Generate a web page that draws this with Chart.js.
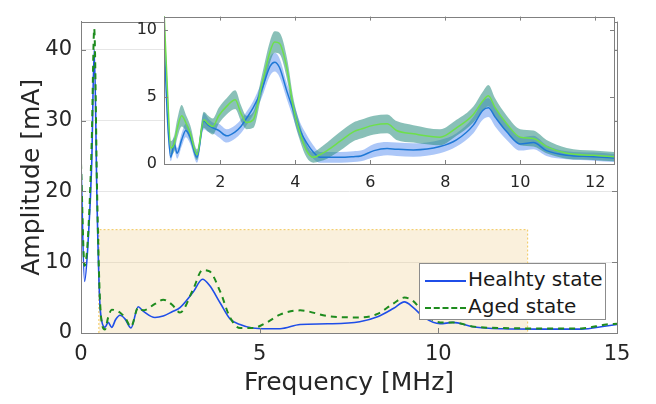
<!DOCTYPE html>
<html>
<head>
<meta charset="utf-8">
<script src="https://cdn.jsdelivr.net/npm/chart.js@4.4.1/dist/chart.umd.min.js"></script>
<style>
	html, body { margin: 0; padding: 0; background: #ffffff; }
	#wrap { position: relative; width: 656px; height: 404px; overflow: hidden; font-family: "DejaVu Sans", sans-serif; }
	#mainChart { position: absolute; left: 0; top: 0; }
	#insetChart { position: absolute; left: 100px; top: 0; }
	#legend { position: absolute; left: 419px; top: 263px; width: 185px; height: 55px; background: #fff; border: 1px solid #8c8c8c; }
	.leg-row { position: absolute; left: 0; height: 27px; width: 100%; }
	.leg-row span { position: absolute; left: 48px; top: 1px; font-size: 20px; color: #1a1a1a; white-space: nowrap; }
	.leg-line { position: absolute; left: 5px; width: 41px; top: 14px; }
</style>
</head>
<body>
<div id="wrap">
	<canvas id="mainChart" width="656" height="404"></canvas>
	<canvas id="insetChart" width="530" height="200"></canvas>
	<div id="legend">
		<div class="leg-row" style="top:2px"><div class="leg-line" style="border-top:2px solid #1f4ee8"></div><span>Healhty state</span></div>
		<div class="leg-row" style="top:29px"><div class="leg-line" style="border-top:2px dashed #1e8c1e"></div><span>Aged state</span></div>
	</div>
</div>
<script>
// 主グラフ（全周波数帯）
const mainFreq = [0, 0.1, 0.2, 0.3, 0.37, 0.45, 0.52, 0.58, 0.67, 0.76, 0.86, 0.97, 1.09, 1.23, 1.4, 1.6, 1.74, 2.07, 2.3, 2.55, 2.77, 3.14, 3.4, 3.6, 3.9, 4.17, 4.45, 4.8, 5.2, 5.57, 6.13, 6.9, 7.8, 8.3, 8.75, 9.05, 9.3, 9.6, 10.05, 10.4, 11, 11.8, 12.85, 14, 14.7, 15];
const healthy = [24, 7.3, 13, 24, 40, 18, 5, 1.7, 0.8, 1.5, 0.8, 1.9, 2.5, 2.0, 0.7, 3.7, 3.1, 2.2, 2.4, 3.0, 3.6, 5.8, 7.6, 6.7, 4.2, 2.0, 1.2, 0.7, 0.6, 0.6, 1.2, 1.3, 1.6, 2.3, 3.5, 4.4, 3.6, 2.2, 1.3, 1.5, 0.85, 0.6, 0.55, 0.55, 1.0, 1.2];
const aged = [24, 9.5, 14, 27, 43, 20, 6, 1.5, 0.5, 2.2, 3.3, 3.2, 2.9, 2.2, 0.9, 3.6, 3.2, 4.1, 4.7, 4.0, 2.9, 6.2, 8.9, 8.7, 5.8, 2.2, 0.7, 0.7, 1.5, 2.6, 3.2, 2.4, 2.2, 2.7, 4.2, 5.0, 4.5, 2.8, 1.5, 1.5, 0.9, 0.7, 0.65, 0.65, 1.2, 1.3];
// 拡大範囲（塗りつぶし矩形）
const zoomBoxX = [0.5, 0.5, 12.5, 12.5];
const zoomBoxY = [0, 14.6, 14.6, 0];
const mainXTicks = [0, 5, 10, 15];
const mainYTicks = [0, 10, 20, 30, 40];

// インセット（平均値＋ばらつき帯）
const insetFreq = [0.5, 0.6, 0.68, 0.77, 0.85, 0.97, 1.08, 1.2, 1.38, 1.56, 1.68, 1.8, 1.96, 2.17, 2.4, 2.55, 2.7, 2.88, 3.1, 3.33, 3.45, 3.58, 3.78, 3.95, 4.13, 4.3, 4.48, 4.66, 4.85, 5.2, 5.55, 5.75, 6.1, 6.45, 6.7, 7.15, 7.86, 8.3, 8.75, 9.0, 9.15, 9.33, 9.64, 10.0, 10.35, 10.7, 11.24, 11.95, 12.5];
const healthyMean = [9.5, 3.0, 0.5, 1.5, 0.8, 1.8, 2.5, 2.0, 0.5, 3.2, 2.9, 2.7, 2.5, 2.1, 2.4, 2.8, 3.4, 4.2, 5.5, 7.3, 7.6, 7.2, 5.4, 4.0, 2.5, 1.6, 0.9, 0.5, 0.5, 0.5, 0.55, 0.6, 1.0, 1.15, 1.1, 1.05, 1.3, 1.8, 2.9, 4.0, 4.2, 3.5, 2.4, 1.5, 1.6, 1.0, 0.65, 0.55, 0.45];
const healthyUpper = [10.0, 3.6, 0.8, 2.0, 1.2, 2.3, 3.0, 2.5, 0.9, 3.8, 3.4, 3.1, 3.0, 2.6, 2.9, 3.3, 3.9, 4.7, 6.1, 8.0, 8.3, 7.9, 6.0, 4.6, 3.1, 2.2, 1.4, 0.9, 0.9, 0.9, 0.95, 1.0, 1.5, 1.65, 1.6, 1.55, 1.8, 2.3, 3.5, 4.7, 4.9, 4.2, 3.0, 2.0, 2.1, 1.4, 0.95, 0.85, 0.75];
const healthyLower = [9.0, 2.4, 0.2, 1.0, 0.4, 1.3, 2.0, 1.5, 0.1, 2.6, 2.4, 2.3, 2.0, 1.6, 1.9, 2.3, 2.9, 3.7, 4.9, 6.6, 6.9, 6.5, 4.8, 3.4, 1.9, 1.0, 0.4, 0.1, 0.1, 0.1, 0.15, 0.2, 0.5, 0.65, 0.6, 0.55, 0.8, 1.3, 2.3, 3.3, 3.5, 2.8, 1.8, 1.0, 1.1, 0.6, 0.35, 0.25, 0.15];
const agedMean = [11.5, 5.0, 1.2, 1.5, 2.6, 3.6, 3.1, 2.3, 0.7, 3.3, 3.0, 2.8, 3.6, 4.3, 4.8, 3.8, 3.1, 3.3, 5.8, 8.4, 9.1, 9.0, 7.1, 4.2, 2.3, 1.0, 0.5, 0.7, 1.0, 1.7, 2.4, 2.6, 2.9, 3.0, 2.5, 2.25, 2.0, 2.7, 3.7, 4.7, 5.1, 4.2, 3.0, 2.0, 1.9, 1.3, 0.8, 0.65, 0.55];
const agedUpper = [12, 5.6, 1.7, 2.1, 3.3, 4.4, 3.7, 2.9, 1.1, 3.9, 3.6, 3.4, 4.2, 4.9, 5.5, 4.4, 3.6, 3.9, 6.5, 9.2, 9.9, 9.8, 7.9, 4.9, 2.9, 1.5, 0.9, 1.2, 1.6, 2.4, 3.1, 3.3, 3.6, 3.7, 3.2, 2.9, 2.6, 3.3, 4.3, 5.4, 5.9, 4.9, 3.6, 2.6, 2.5, 1.8, 1.2, 1.0, 0.9];
const agedLower = [11, 4.4, 0.7, 0.9, 1.9, 2.8, 2.5, 1.7, 0.3, 2.7, 2.4, 2.2, 3.0, 3.7, 4.1, 3.2, 2.6, 2.7, 5.1, 7.6, 8.3, 8.2, 6.3, 3.5, 1.7, 0.5, 0.1, 0.2, 0.4, 1.0, 1.7, 1.9, 2.2, 2.3, 1.8, 1.6, 1.4, 2.1, 3.1, 4.0, 4.3, 3.5, 2.4, 1.4, 1.3, 0.8, 0.4, 0.3, 0.2];
const insetXTicks = [2, 4, 6, 8, 10, 12];
const insetYTicks = [0, 5, 10];

const FONT = '"DejaVu Sans", sans-serif';
const TEXT = '#262626';
const AXIS = '#808080';

const pts = (xs, ys) => xs.map((x, i) => ({ x: x, y: ys[i] }));
const fixTicks = arr => (scale) => { scale.ticks = arr.map(v => ({ value: v })); };

// 枠線と内向き目盛り（MATLAB風）
const boxPlugin = {
	id: 'boxTicks',
	beforeDatasetsDraw(chart, args, opts) {
		if (!opts.bg) return;
		const a = chart.chartArea, c = chart.ctx;
		c.save();
		c.fillStyle = opts.bg;
		c.fillRect(a.left, a.top, a.right - a.left, a.bottom - a.top);
		c.restore();
	},
	afterDatasetsDraw(chart, args, opts) {
		const a = chart.chartArea, c = chart.ctx;
		const len = opts.len || 5;
		c.save();
		c.strokeStyle = AXIS;
		c.lineWidth = 1;
		c.strokeRect(Math.round(a.left) + 0.5, Math.round(a.top) + 0.5, Math.round(a.right - a.left), Math.round(a.bottom - a.top));
		c.beginPath();
		chart.scales.x.ticks.forEach(t => {
			const px = Math.round(chart.scales.x.getPixelForValue(t.value)) + 0.5;
			c.moveTo(px, a.bottom); c.lineTo(px, a.bottom - len);
			c.moveTo(px, a.top); c.lineTo(px, a.top + len);
		});
		chart.scales.y.ticks.forEach(t => {
			const py = Math.round(chart.scales.y.getPixelForValue(t.value)) + 0.5;
			c.moveTo(a.left, py); c.lineTo(a.left + len, py);
			c.moveTo(a.right, py); c.lineTo(a.right - len, py);
		});
		c.stroke();
		c.restore();
	}
};

new Chart(document.getElementById('mainChart'), {
	type: 'line',
	data: {
		datasets: [{
			label: 'Healhty state',
			data: pts(mainFreq, healthy),
			borderColor: '#1f4ee8',
			borderWidth: 1.6,
			pointRadius: 0,
			cubicInterpolationMode: 'monotone',
			order: 2
		}, {
			label: 'Aged state',
			data: pts(mainFreq, aged),
			borderColor: '#1e8c1e',
			borderWidth: 2,
			borderDash: [6, 5],
			pointRadius: 0,
			cubicInterpolationMode: 'monotone',
			order: 1
		}, {
			label: 'zoom',
			data: pts(zoomBoxX, zoomBoxY),
			borderColor: '#f2c75a',
			borderWidth: 1,
			borderDash: [2, 2],
			backgroundColor: 'rgba(240, 205, 140, 0.3)',
			fill: 'origin',
			pointRadius: 0,
			tension: 0,
			order: 10
		}]
	},
	options: {
		responsive: false,
		animation: false,
		devicePixelRatio: 1,
		layout: { padding: { left: 0, top: 5, right: 39, bottom: 0 } },
		plugins: {
			legend: { display: false },
			tooltip: { enabled: false },
			boxTicks: { len: 5 }
		},
		scales: {
			x: {
				type: 'linear',
				min: 0,
				max: 15,
				afterBuildTicks: fixTicks(mainXTicks),
				afterFit: s => { s.height = 71; },
				grid: { display: false, drawTicks: false },
				border: { color: AXIS },
				ticks: { color: TEXT, padding: 9, font: { family: FONT, size: 21 } },
				title: { display: true, text: 'Frequency [MHz]', color: TEXT, padding: { bottom: 6 }, font: { family: FONT, size: 25 } }
			},
			y: {
				min: 0,
				max: 44,
				afterBuildTicks: fixTicks(mainYTicks),
				afterFit: s => { s.width = 81; },
				grid: { color: '#e6e6e6', drawTicks: false },
				border: { color: AXIS },
				ticks: { color: TEXT, padding: 9, font: { family: FONT, size: 21 } },
				title: { display: true, text: 'Amplitude [mA]', color: TEXT, padding: { top: 17 }, font: { family: FONT, size: 25 } }
			}
		}
	},
	plugins: [boxPlugin]
});

new Chart(document.getElementById('insetChart'), {
	type: 'line',
	data: {
		datasets: [{
			label: 'hl',
			data: pts(insetFreq, healthyLower),
			borderWidth: 0,
			pointRadius: 0,
			fill: false,
			cubicInterpolationMode: 'monotone',
			order: 6
		}, {
			label: 'hu',
			data: pts(insetFreq, healthyUpper),
			borderWidth: 0,
			pointRadius: 0,
			fill: '-1',
			backgroundColor: 'rgba(70, 130, 240, 0.45)',
			cubicInterpolationMode: 'monotone',
			order: 5
		}, {
			label: 'al',
			data: pts(insetFreq, agedLower),
			borderWidth: 0,
			pointRadius: 0,
			fill: false,
			cubicInterpolationMode: 'monotone',
			order: 4
		}, {
			label: 'au',
			data: pts(insetFreq, agedUpper),
			borderWidth: 0,
			pointRadius: 0,
			fill: '-1',
			backgroundColor: 'rgba(40, 140, 125, 0.55)',
			cubicInterpolationMode: 'monotone',
			order: 3
		}, {
			label: 'Healhty mean',
			data: pts(insetFreq, healthyMean),
			borderColor: '#1f78d6',
			borderWidth: 1.5,
			pointRadius: 0,
			cubicInterpolationMode: 'monotone',
			order: 2
		}, {
			label: 'Aged mean',
			data: pts(insetFreq, agedMean),
			borderColor: '#6ee04a',
			borderWidth: 1.5,
			pointRadius: 0,
			cubicInterpolationMode: 'monotone',
			order: 1
		}]
	},
	options: {
		responsive: false,
		animation: false,
		devicePixelRatio: 1,
		layout: { padding: { left: 0, top: 15, right: 16, bottom: 0 } },
		plugins: {
			legend: { display: false },
			tooltip: { enabled: false },
			boxTicks: { len: 4, bg: '#ffffff' }
		},
		scales: {
			x: {
				type: 'linear',
				min: 0.5,
				max: 12.5,
				afterBuildTicks: fixTicks(insetXTicks),
				afterFit: s => { s.height = 36; },
				grid: { color: '#e3e3e3', drawTicks: false },
				border: { color: AXIS },
				ticks: { color: TEXT, padding: 9, font: { family: FONT, size: 16 } }
			},
			y: {
				min: 0,
				max: 11,
				afterBuildTicks: fixTicks(insetYTicks),
				afterFit: s => { s.width = 64; },
				grid: { color: '#e3e3e3', drawTicks: false },
				border: { color: AXIS },
				ticks: { color: TEXT, padding: 7, font: { family: FONT, size: 16 } }
			}
		}
	},
	plugins: [boxPlugin]
});
</script>
</body>
</html>
